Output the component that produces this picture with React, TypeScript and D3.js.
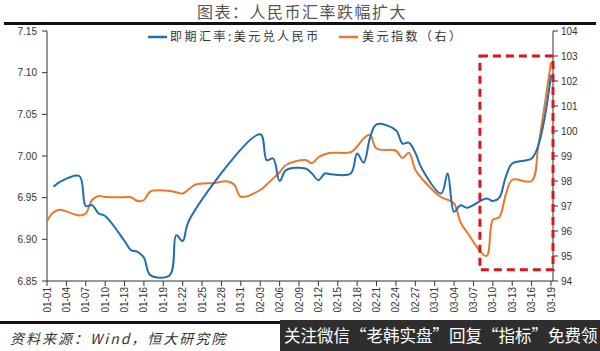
import * as d3 from "d3";

// tick labels on the date axis (every 3 days)
const tickLabels = [
  "01-01", "01-04", "01-07", "01-10", "01-13", "01-16", "01-19", "01-22", "01-25",
  "01-28", "01-31", "02-03", "02-06", "02-09", "02-12", "02-15", "02-18", "02-21",
  "02-24", "02-27", "03-01", "03-04", "03-07", "03-10", "03-13", "03-16", "03-19",
];
const leftTicks = [6.85, 6.9, 6.95, 7.0, 7.05, 7.1, 7.15];
const rightTicks = [94, 95, 96, 97, 98, 99, 100, 101, 102, 103, 104];

// USD/CNY spot (left axis)
const cnyDates = [
  "01-02", "01-03", "01-06", "01-07", "01-08", "01-09", "01-10", "01-13", "01-14",
  "01-15", "01-16", "01-17", "01-20", "01-21", "01-22", "01-23", "02-03", "02-04",
  "02-05", "02-06", "02-07", "02-10", "02-11", "02-12", "02-13", "02-14", "02-17",
  "02-18", "02-19", "02-20", "02-21", "02-24", "02-25", "02-26", "02-27", "02-28",
  "03-02", "03-03", "03-04", "03-05", "03-06", "03-09", "03-10", "03-11", "03-12",
  "03-13", "03-16", "03-17", "03-18", "03-19",
];
const cnyValues = [
  6.963, 6.969, 6.976, 6.94, 6.941, 6.931, 6.928, 6.898, 6.887,
  6.885, 6.878, 6.857, 6.857, 6.905, 6.898, 6.923, 7.026, 6.995,
  6.997, 6.97, 6.983, 6.985, 6.979, 6.971, 6.979, 6.978, 6.979,
  7.003, 6.992, 7.022, 7.038, 7.031, 7.015, 7.016, 7.004, 6.985,
  6.955, 6.979, 6.933, 6.941, 6.938, 6.949, 6.946, 6.95, 6.975,
  6.991, 6.997, 7.012, 7.045, 7.097,
];

// US dollar index (right axis)
const dxyDates = [
  "01-01", "01-02", "01-03", "01-06", "01-07", "01-08", "01-09", "01-10", "01-13",
  "01-14", "01-15", "01-16", "01-17", "01-20", "01-21", "01-22", "01-23", "01-24",
  "01-27", "01-28", "01-29", "01-30", "01-31", "02-03", "02-04", "02-05", "02-06",
  "02-07", "02-10", "02-11", "02-12", "02-13", "02-14", "02-17", "02-18", "02-19",
  "02-20", "02-21", "02-24", "02-25", "02-26", "02-27", "02-28", "03-02", "03-03",
  "03-04", "03-05", "03-06", "03-09", "03-10", "03-11", "03-12", "03-13", "03-16",
  "03-17", "03-18", "03-19",
];
const dxyValues = [
  96.4, 96.75, 96.85, 96.62, 96.7, 97.25, 97.4, 97.36, 97.35,
  97.35, 97.2, 97.24, 97.58, 97.6, 97.55, 97.5, 97.68, 97.86,
  97.92, 97.97, 97.98, 97.85, 97.37, 97.64, 97.86, 98.1, 98.35,
  98.64, 98.84, 98.71, 98.95, 99.07, 99.13, 99.15, 99.38, 99.7,
  99.85, 99.3, 99.21, 98.92, 99.13, 98.45, 98.1, 97.35, 97.25,
  97.1, 96.35, 95.95, 95.0, 96.45, 96.55, 97.45, 98.05, 98.0,
  99.35, 101.0, 102.75,
];

const parse = (s: string) => d3.timeParse("%Y-%m-%d")("2020-" + s)!;

const BLUE = "#1f6db4";
const ORANGE = "#e8792a";
const RED = "#d9161c";
const numFont = "'Liberation Sans', Arial, sans-serif";
const cjkFont = "'Noto Sans CJK SC', sans-serif";

export default function App() {
  const left = 47;
  const right = 553;
  const top = 31;
  const bottom = 281;

  const x = d3.scaleTime().domain([parse("01-01"), parse("03-19")]).range([left, 551]);
  const yL = d3.scaleLinear().domain([6.85, 7.15]).range([bottom, top]);
  const yR = d3.scaleLinear().domain([94, 104]).range([bottom, top]);

  const cny = cnyDates.map((d, i) => ({ date: parse(d), v: cnyValues[i] }));
  const dxy = dxyDates.map((d, i) => ({ date: parse(d), v: dxyValues[i] }));

  const lineL = d3
    .line<{ date: Date; v: number }>()
    .x((d) => x(d.date))
    .y((d) => yL(d.v))
    .curve(d3.curveCatmullRom.alpha(0.5));
  const lineR = d3
    .line<{ date: Date; v: number }>()
    .x((d) => x(d.date))
    .y((d) => yR(d.v))
    .curve(d3.curveCatmullRom.alpha(0.5));

  // highlight box around the March move
  const boxX = x(parse("03-08"));
  const boxTop = yR(103);
  const boxBottom = yR(94.45);

  return (
    <svg
      width={600}
      height={351}
      style={{ position: "absolute", left: 0, top: 0, background: "#fff" }}
    >
      {/* title */}
      <text
        x={302}
        y={18}
        textAnchor="middle"
        fontFamily={cjkFont}
        fontSize={16}
        letterSpacing={1.5}
        fill="#555"
      >
        图表：人民币汇率跌幅扩大
      </text>
      <rect x={4} y={22} width={592} height={3} fill="#111" />

      {/* legend */}
      <line x1={148} x2={167} y1={37} y2={37} stroke={BLUE} strokeWidth={2.5} />
      <text x={170} y={41} fontFamily={cjkFont} fontSize={12} letterSpacing={2.5} fill="#333">
        即期汇率:美元兑人民币
      </text>
      <line x1={339} x2={358} y1={37} y2={37} stroke={ORANGE} strokeWidth={2.5} />
      <text x={362} y={41} fontFamily={cjkFont} fontSize={12} letterSpacing={2.5} fill="#333">
        美元指数（右）
      </text>

      {/* left axis */}
      <line x1={left} x2={left} y1={top} y2={bottom} stroke="#333" />
      {leftTicks.map((t) => (
        <g key={t}>
          <line x1={left - 5} x2={left} y1={yL(t)} y2={yL(t)} stroke="#333" />
          <text
            x={37}
            y={yL(t) + 3.5}
            textAnchor="end"
            fontFamily={numFont}
            fontSize={10}
            fill="#333"
          >
            {t.toFixed(2)}
          </text>
        </g>
      ))}

      {/* right axis */}
      <line x1={right} x2={right} y1={top} y2={bottom} stroke="#333" />
      {rightTicks.map((t) => (
        <g key={t}>
          <line x1={right} x2={right + 5} y1={yR(t)} y2={yR(t)} stroke="#333" />
          <text x={561} y={yR(t) + 3.5} fontFamily={numFont} fontSize={10} fill="#333">
            {t}
          </text>
        </g>
      ))}

      {/* bottom axis */}
      <line x1={left} x2={right} y1={bottom} y2={bottom} stroke="#333" />
      {tickLabels.map((t) => {
        const px = x(parse(t));
        return (
          <g key={t}>
            <line x1={px} x2={px} y1={bottom} y2={bottom + 5} stroke="#333" />
            <text
              transform={`translate(${px + 3.5},${bottom + 6}) rotate(-90)`}
              textAnchor="end"
              fontFamily={numFont}
              fontSize={10}
              fill="#333"
            >
              {t}
            </text>
          </g>
        );
      })}

      {/* series */}
      <path d={lineR(dxy)!} fill="none" stroke={ORANGE} strokeWidth={2} />
      <path d={lineL(cny)!} fill="none" stroke={BLUE} strokeWidth={2} />

      {/* dashed highlight */}
      <rect
        x={boxX}
        y={boxTop}
        width={right - boxX}
        height={boxBottom - boxTop}
        fill="none"
        stroke={RED}
        strokeWidth={3}
        strokeDasharray="8 5"
      />

      {/* source + footer */}
      <rect x={0} y={321} width={290} height={3} fill="#111" />
      <text
        x={10}
        y={344}
        fontFamily={cjkFont}
        fontSize={14}
        fontStyle="italic"
        letterSpacing={2}
        fill="#333"
      >
        资料来源：Wind，恒大研究院
      </text>
      <rect x={280} y={320} width={320} height={31} fill="#2e2e2e" />
      <text x={284} y={342} fontFamily={cjkFont} fontSize={16.5} fill="#fff">
        关注微信“老韩实盘”回复“指标”免费领
      </text>
    </svg>
  );
}
